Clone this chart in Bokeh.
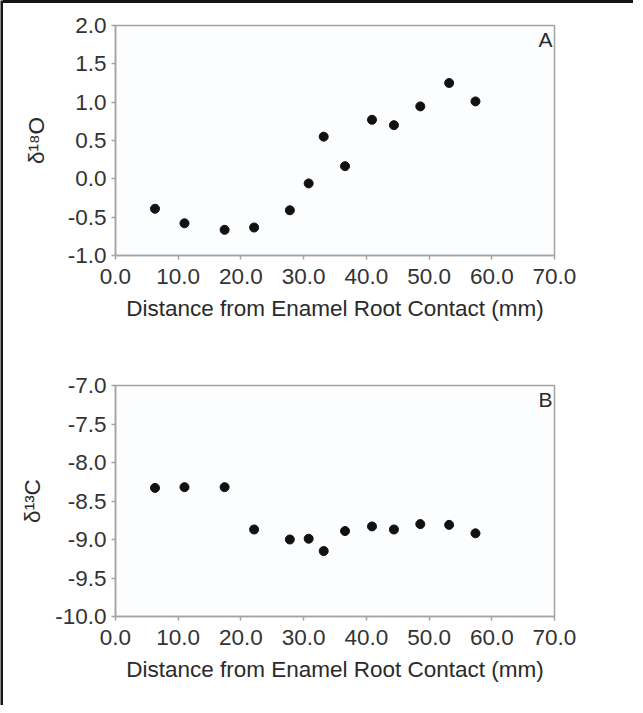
from bokeh.plotting import figure
from bokeh.layouts import column, row
from bokeh.models import Range1d, FixedTicker, PrintfTickFormatter, Label, Div
from bokeh.embed import file_html
from bokeh.resources import INLINE

distance = [6.3, 11.0, 17.4, 22.1, 27.8, 30.8, 33.2, 36.6, 40.9, 44.4, 48.6, 53.2, 57.4]
d18O = [-0.39, -0.58, -0.665, -0.635, -0.41, -0.06, 0.55, 0.165, 0.77, 0.70, 0.945, 1.25, 1.01]
d13C = [-8.33, -8.32, -8.32, -8.87, -9.00, -8.99, -9.15, -8.89, -8.83, -8.87, -8.80, -8.81, -8.92]
x_ticks = [0, 10, 20, 30, 40, 50, 60, 70]
o_ticks = [-1.0, -0.5, 0.0, 0.5, 1.0, 1.5, 2.0]
c_ticks = [-10.0, -9.5, -9.0, -8.5, -8.0, -7.5, -7.0]

FONT = "Liberation Sans"
FS = "22.5px"
GRAY = "#a3a3a3"
BORDER = "#151515"


def vstrip(w, h):
    s = figure(width=w, height=h, output_backend="svg", toolbar_location=None,
               x_axis_location=None, y_axis_location=None, min_border=0,
               border_fill_color=BORDER, background_fill_color=BORDER,
               outline_line_color=None)
    s.title.visible = False
    s.xgrid.visible = False
    s.ygrid.visible = False
    return s


def make(y, yr, yt, ylabel, letter, w, h, ml, mr, mt, mb, ystand):
    p = figure(width=w, height=h, output_backend="svg", toolbar_location=None,
               x_range=Range1d(0, 70), y_range=Range1d(*yr),
               min_border_left=ml, min_border_right=mr, min_border_top=mt, min_border_bottom=mb)
    p.xgrid.visible = False
    p.ygrid.visible = False
    p.outline_line_color = GRAY
    p.outline_line_width = 1.5
    p.background_fill_color = "#fcfdfe"
    p.border_fill_color = "white"
    p.scatter(distance, y, size=9, color="#111111")
    p.xaxis.ticker = FixedTicker(ticks=x_ticks)
    p.yaxis.ticker = FixedTicker(ticks=yt)
    for ax in (p.xaxis[0], p.yaxis[0]):
        ax.formatter = PrintfTickFormatter(format="%.1f")
        ax.axis_line_color = GRAY
        ax.axis_line_width = 1.5
        ax.major_tick_line_color = GRAY
        ax.major_tick_line_width = 1.5
        ax.major_tick_out = 4
        ax.major_tick_in = 0
        ax.minor_tick_line_color = None
        ax.major_label_text_font = FONT
        ax.major_label_text_font_size = FS
        ax.major_label_text_color = "#333333"
        ax.axis_label_text_font = FONT
        ax.axis_label_text_font_size = FS
        ax.axis_label_text_font_style = "normal"
        ax.axis_label_text_color = "#2a2a2a"
    p.xaxis.axis_label = "Distance from Enamel Root Contact (mm)"
    p.xaxis.major_label_standoff = 9
    p.xaxis.axis_label_standoff = 9
    p.yaxis.axis_label = ylabel
    p.yaxis.major_label_standoff = 5
    p.yaxis.axis_label_standoff = ystand
    p.add_layout(Label(x=70, y=yr[1], text=letter, text_align="right", text_baseline="top",
                       x_offset=-2, y_offset=-2, text_font=FONT, text_font_size="21px",
                       text_color="#2a2a2a"))
    return p


p1 = make(d18O, (-1.0, 2.0), o_ticks, "δ¹⁸O", "A", 630, 347, 110, 79, 22, 95, 16)
p2 = make(d13C, (-10.0, -7.0), c_ticks, "δ¹³C", "B", 630, 355, 112, 79, 35, 89, 7)

top_strip = Div(text="", width=630, height=3,
                styles={"background-color": BORDER, "margin": "0", "padding": "0"})

layout = row(vstrip(3, 705), column(top_strip, p1, p2, spacing=0), spacing=0)
open("out.html", "w").write(file_html(layout, INLINE))
